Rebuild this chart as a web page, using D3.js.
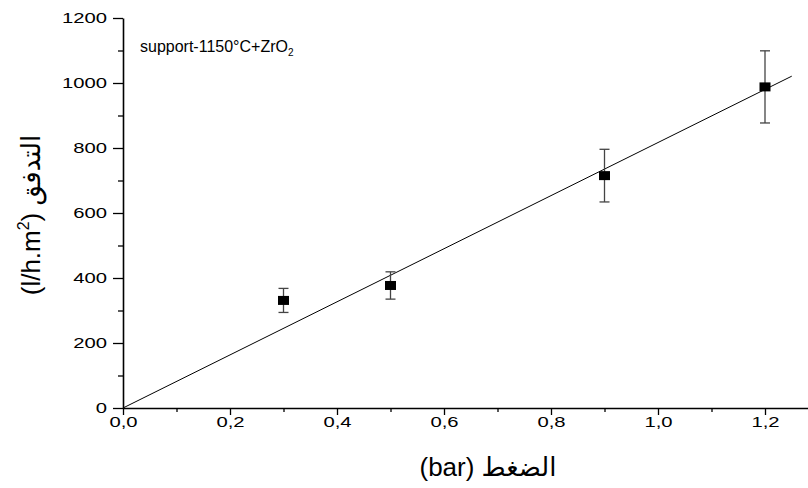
<!DOCTYPE html>
<html>
<head>
<meta charset="utf-8">
<script src="https://cdn.jsdelivr.net/npm/d3@7"></script>
<style>
  html, body { margin: 0; padding: 0; background: #fff; }
  svg { display: block; }
  text { font-family: "Liberation Sans", Arial, "DejaVu Sans", sans-serif; fill: #000; }
</style>
</head>
<body>
<svg id="chart" width="808" height="488"></svg>
<script>
// Measured permeate flux versus applied pressure
const pressure = [0.3, 0.5, 0.9, 1.2];
const flux = [331, 377, 715, 988];
const fluxErr = [37, 42, 81, 111];

// Straight-line fit through the origin
const fitX = [0, 1.25];
const fitY = [0, 1021];

const xTicks = [0, 0.2, 0.4, 0.6, 0.8, 1.0, 1.2];
const xTickLabels = ["0,0", "0,2", "0,4", "0,6", "0,8", "1,0", "1,2"];
const xMinorTicks = [0.1, 0.3, 0.5, 0.7, 0.9, 1.1];
const yTicks = [0, 200, 400, 600, 800, 1000, 1200];
const yTickLabels = ["0", "200", "400", "600", "800", "1000", "1200"];
const yMinorTicks = [100, 300, 500, 700, 900, 1100];

// Tick numbers use a widened face
const SX = 1.35;

const svg = d3.select("#chart");
const plotLeft = 123, plotBottom = 408, plotTop = 18;

const x = d3.scaleLinear().domain([0, 1.3]).range([plotLeft, plotLeft + 1.3 * 535]);
const y = d3.scaleLinear().domain([0, 1200]).range([plotBottom, plotTop]);

// Fit line
svg.append("line")
  .attr("x1", x(fitX[0])).attr("y1", y(fitY[0]))
  .attr("x2", x(fitX[1])).attr("y2", y(fitY[1]))
  .attr("stroke", "#000").attr("stroke-width", 1);

// Error bars
const eb = svg.append("g").attr("stroke", "#444").attr("stroke-width", 1.3);
pressure.forEach((p, i) => {
  const cx = x(p);
  eb.append("line").attr("x1", cx).attr("x2", cx)
    .attr("y1", y(flux[i] - fluxErr[i])).attr("y2", y(flux[i] + fluxErr[i]));
  [flux[i] - fluxErr[i], flux[i] + fluxErr[i]].forEach(v => {
    eb.append("line").attr("x1", cx - 5).attr("x2", cx + 5)
      .attr("y1", y(v)).attr("y2", y(v));
  });
});

// Square markers
svg.append("g").selectAll("rect").data(pressure).join("rect")
  .attr("x", d => x(d) - 5.5)
  .attr("y", (d, i) => y(flux[i]) - 4.5)
  .attr("width", 11).attr("height", 9)
  .attr("fill", "#000");

// Axes
const xAxis = svg.append("g").attr("transform", `translate(0,${plotBottom})`)
  .call(d3.axisBottom(x).tickValues(xTicks).tickSize(7).tickSizeOuter(0)
    .tickFormat((d, i) => xTickLabels[i]));
svg.append("g").attr("transform", `translate(0,${plotBottom})`)
  .call(d3.axisBottom(x).tickValues(xMinorTicks).tickSize(4).tickFormat(""))
  .select(".domain").remove();

const yAxis = svg.append("g").attr("transform", `translate(${plotLeft},0)`)
  .call(d3.axisLeft(y).tickValues(yTicks).tickSize(10).tickSizeOuter(0)
    .tickFormat((d, i) => yTickLabels[i]));
svg.append("g").attr("transform", `translate(${plotLeft},0)`)
  .call(d3.axisLeft(y).tickValues(yMinorTicks).tickSize(5).tickFormat(""))
  .select(".domain").remove();

svg.selectAll(".domain").attr("stroke-width", 1.6);
svg.selectAll(".tick line").attr("stroke-width", 1.3);
xAxis.selectAll(".tick text").attr("font-size", 15).attr("y", 7).attr("dy", "0.8em")
  .attr("transform", `scale(${SX},1)`)
  .attr("font-family", "Liberation Sans, Arial, sans-serif");
yAxis.selectAll(".tick text").attr("font-size", 15).attr("x", -16 / SX)
  .attr("transform", `scale(${SX},1)`)
  .attr("font-family", "Liberation Sans, Arial, sans-serif");

// Sample label
const lbl = svg.append("text").attr("x", 140).attr("y", 52).attr("font-size", 16);
lbl.append("tspan").text("support-1150°C+ZrO");
lbl.append("tspan").attr("font-size", 10).attr("dy", 4).text("2");

// Axis titles
svg.append("text")
  .attr("x", 488).attr("y", 476)
  .attr("text-anchor", "middle").attr("font-size", 26)
  .attr("font-family", "Open Sans, DejaVu Sans, sans-serif")
  .text("(bar) الضغط");

const yt = svg.append("text")
  .attr("transform", "translate(40,215) rotate(-90)")
  .attr("text-anchor", "middle").attr("font-size", 26)
  .attr("font-family", "Open Sans, DejaVu Sans, sans-serif");
yt.append("tspan").text("(l/h.m");
yt.append("tspan").attr("font-size", 16).attr("dy", -11).text("2");
yt.append("tspan").attr("dy", 11).text(") التدفق");
</script>
</body>
</html>
